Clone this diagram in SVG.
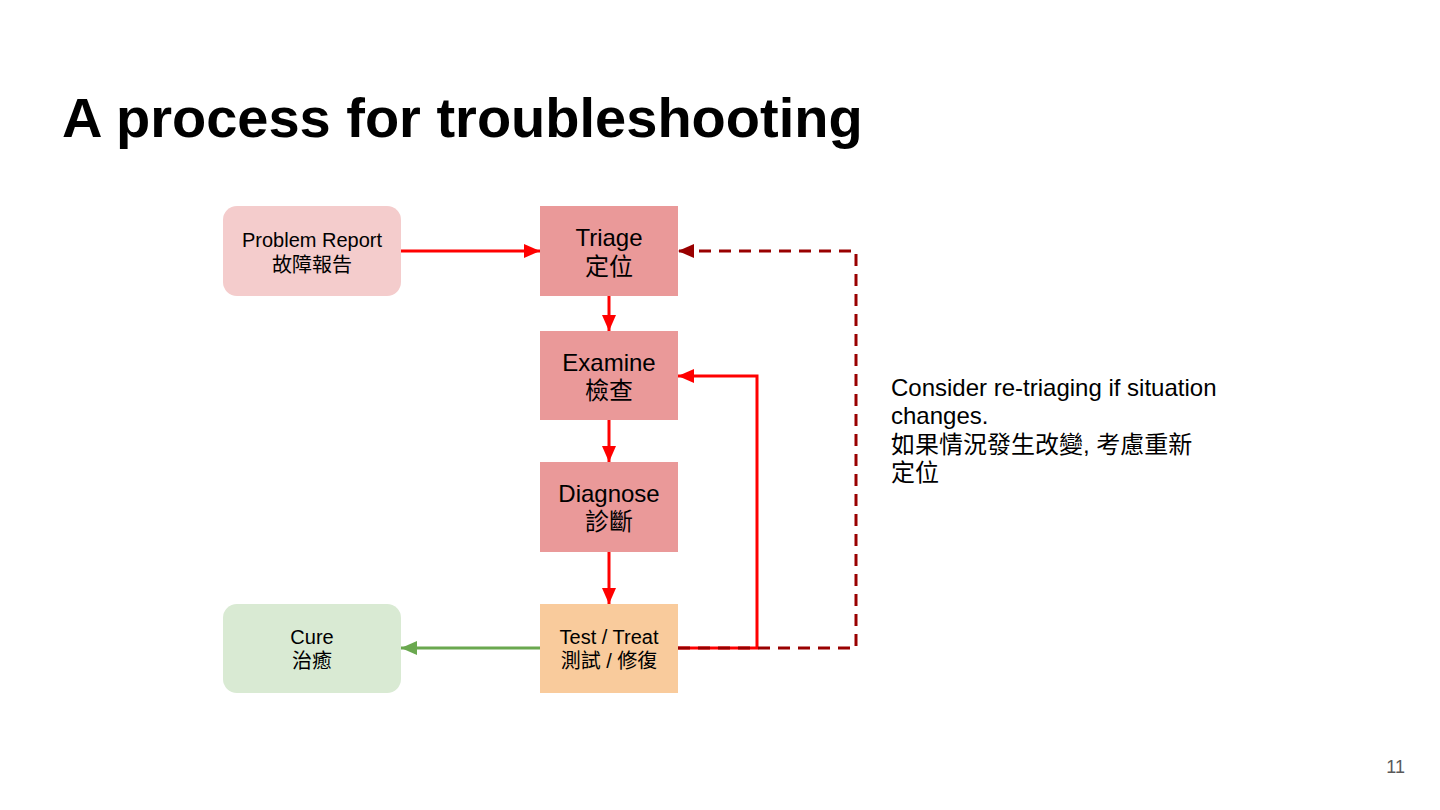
<svg xmlns="http://www.w3.org/2000/svg" width="1440" height="810" viewBox="0 0 1440 810">
<defs>
<style>
text{font-family:"Liberation Sans",Arial,"Noto Sans CJK TC",sans-serif;fill:#000}
.t{text-anchor:middle}
.s20{font-size:20px}
.s24{font-size:24px}
.red{stroke:#ff0000;stroke-width:3;fill:none}
.green{stroke:#6aa84f;stroke-width:3;fill:none}
.dash{stroke:#990000;stroke-width:3;fill:none;stroke-dasharray:12,8}
</style>
<marker id="aRed" viewBox="0 0 16 14" refX="16" refY="7" markerWidth="16" markerHeight="14" markerUnits="userSpaceOnUse" orient="auto"><path d="M0,0L16,7L0,14z" fill="#ff0000"/></marker>
<marker id="aGreen" viewBox="0 0 16 14" refX="16" refY="7" markerWidth="16" markerHeight="14" markerUnits="userSpaceOnUse" orient="auto"><path d="M0,0L16,7L0,14z" fill="#6aa84f"/></marker>
<marker id="aDark" viewBox="0 0 16 14" refX="16" refY="7" markerWidth="16" markerHeight="14" markerUnits="userSpaceOnUse" orient="auto"><path d="M0,0L16,7L0,14z" fill="#990000"/></marker>
</defs>
<rect width="1440" height="810" fill="#ffffff"/>
<text x="62" y="137" style="font-size:56px;font-weight:bold">A process for troubleshooting</text>

<g id="connectors">
<path class="red" d="M401,251H540" marker-end="url(#aRed)"/>
<path class="red" d="M609,296V331" marker-end="url(#aRed)"/>
<path class="red" d="M609,420V462" marker-end="url(#aRed)"/>
<path class="red" d="M609,552V604" marker-end="url(#aRed)"/>
<path class="green" d="M540,648H401" marker-end="url(#aGreen)"/>
<path class="red" d="M678,648H757V376H678" marker-end="url(#aRed)"/>
<path class="dash" d="M678,648H856V251H678" marker-end="url(#aDark)"/>
</g>

<g id="problem-report">
<rect x="223" y="206" width="178" height="90" rx="14" fill="#f4cccc"/>
<text class="t s20" x="312" y="247">Problem Report</text>
<text class="t s20" x="312" y="272">故障報告</text>
</g>
<g id="triage">
<rect x="540" y="206" width="138" height="90" fill="#ea9999"/>
<text class="t s24" x="609" y="246">Triage</text>
<text class="t s24" x="609" y="275">定位</text>
</g>
<g id="examine">
<rect x="540" y="331" width="138" height="89" fill="#ea9999"/>
<text class="t s24" x="609" y="371">Examine</text>
<text class="t s24" x="609" y="399">檢查</text>
</g>
<g id="diagnose">
<rect x="540" y="462" width="138" height="90" fill="#ea9999"/>
<text class="t s24" x="609" y="502">Diagnose</text>
<text class="t s24" x="609" y="530">診斷</text>
</g>
<g id="test-treat">
<rect x="540" y="604" width="138" height="89" fill="#f9cb9c"/>
<text class="t s20" x="609" y="644">Test / Treat</text>
<text class="t s20" x="609" y="668">測試 / 修復</text>
</g>
<g id="cure">
<rect x="223" y="604" width="178" height="89" rx="14" fill="#d9ead3"/>
<text class="t s20" x="312" y="644">Cure</text>
<text class="t s20" x="312" y="668">治癒</text>
</g>

<g id="note">
<text class="s24" x="891" y="396">Consider re-triaging if situation</text>
<text class="s24" x="891" y="424">changes.</text>
<text class="s24" x="891" y="453">如果情況發生改變, 考慮重新</text>
<text class="s24" x="891" y="481">定位</text>
</g>

<text x="1405" y="773" style="font-size:18px;fill:#595959;text-anchor:end">11</text>
</svg>
